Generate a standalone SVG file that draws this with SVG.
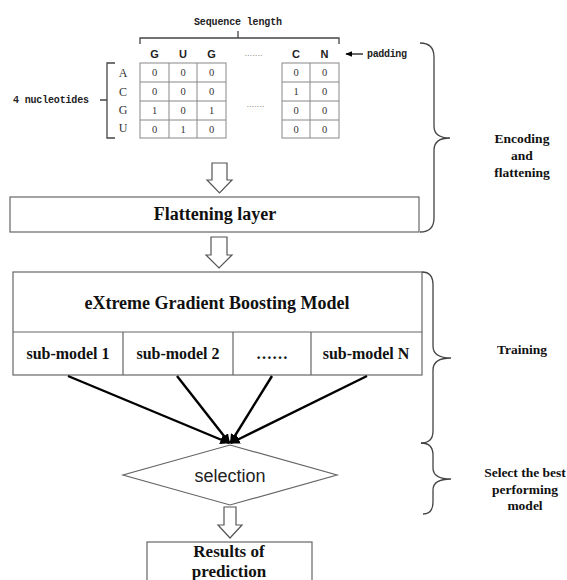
<svg xmlns="http://www.w3.org/2000/svg" width="567" height="580" viewBox="0 0 567 580">
<defs>
<marker id="ah" viewBox="0 0 10 10" refX="9" refY="5" markerWidth="4" markerHeight="4" orient="auto" markerUnits="strokeWidth"><path d="M0,0 L10,5 L0,10 z" fill="#000"/></marker>
<marker id="pa" viewBox="0 0 10 10" refX="9" refY="5" markerWidth="6" markerHeight="6" orient="auto" markerUnits="strokeWidth"><path d="M0,1 L10,5 L0,9 z" fill="#000"/></marker>
</defs>
<style>
.mono{font-family:"Liberation Mono",monospace;font-size:10px;font-weight:bold;fill:#222}
.hdr{font-family:"Liberation Sans",Arial,sans-serif;font-size:11px;font-weight:bold;fill:#222;text-anchor:middle}
.row{font-family:"Liberation Serif","Times New Roman",serif;font-size:12px;fill:#333;text-anchor:middle}
.num{font-family:"Liberation Serif","Times New Roman",serif;font-size:10.5px;fill:#333;text-anchor:middle}
.cell{fill:#fff;stroke:#888;stroke-width:1}
.box{fill:#fff;stroke:#666;stroke-width:1.2}
.bt{font-family:"Liberation Serif","Times New Roman",serif;font-weight:bold;font-size:18px;fill:#111;text-anchor:middle}
.rt{font-family:"Liberation Serif","Times New Roman",serif;font-weight:bold;font-size:17px;fill:#111;text-anchor:middle}
.st{font-family:"Liberation Serif","Times New Roman",serif;font-weight:bold;font-size:16px;fill:#111;text-anchor:middle}
.side{font-family:"Liberation Serif","Times New Roman",serif;font-weight:bold;font-size:13.5px;fill:#111;text-anchor:middle}
.brace{fill:none;stroke:#444;stroke-width:1.3}
.blk{fill:#fff;stroke:#555;stroke-width:1.2}
.conn{stroke:#000;stroke-width:2.4;fill:none;marker-end:url(#ah)}
.dots{font-family:"Liberation Mono",monospace;font-size:6px;fill:#444;text-anchor:middle;letter-spacing:-1px}
</style>

<g id="encoding-matrix">
  <text class="mono" x="194" y="25" textLength="88">Sequence length</text>
  <path class="brace" d="M140,44 L140,38 L339,38 L339,44 M238,38 L238,31"/>
  <text class="hdr" x="154.5" y="58">G</text>
  <text class="hdr" x="183" y="58">U</text>
  <text class="hdr" x="211.5" y="58">G</text>
  <text class="dots" x="253" y="56">.......</text>
  <text class="hdr" x="296" y="58">C</text>
  <text class="hdr" x="324.5" y="58">N</text>
  <path d="M363,54 L346,54" stroke="#000" stroke-width="1.2" marker-end="url(#pa)"/>
  <text class="mono" x="367" y="57" textLength="40">padding</text>
  <text class="mono" x="13" y="103" textLength="76">4 nucleotides</text>
  <path class="brace" d="M115,63 L107,63 L107,138 L115,138 M100,100 L107,100"/>
  <text class="row" x="123" y="77">A</text>
  <text class="row" x="123" y="96">C</text>
  <text class="row" x="123" y="114">G</text>
  <text class="row" x="123" y="132">U</text>
  <g>
    <rect class="cell" x="140" y="63" width="86" height="75"/>
    <path d="M169,63 V138 M197,63 V138 M140,82 H226 M140,101 H226 M140,120 H226" stroke="#888" stroke-width="1"/>
    <rect class="cell" x="282" y="63" width="57" height="75"/>
    <path d="M310,63 V138 M282,82 H339 M282,101 H339 M282,120 H339" stroke="#888" stroke-width="1"/>
  </g>
  <g>
    <text class="num" x="154.5" y="76">0</text><text class="num" x="183" y="76">0</text><text class="num" x="211.5" y="76">0</text>
    <text class="num" x="154.5" y="95">0</text><text class="num" x="183" y="95">0</text><text class="num" x="211.5" y="95">0</text>
    <text class="num" x="154.5" y="114">1</text><text class="num" x="183" y="114">0</text><text class="num" x="211.5" y="114">1</text>
    <text class="num" x="154.5" y="133">0</text><text class="num" x="183" y="133">1</text><text class="num" x="211.5" y="133">0</text>
    <text class="num" x="296" y="76">0</text><text class="num" x="324.5" y="76">0</text>
    <text class="num" x="296" y="95">1</text><text class="num" x="324.5" y="95">0</text>
    <text class="num" x="296" y="114">0</text><text class="num" x="324.5" y="114">0</text>
    <text class="num" x="296" y="133">0</text><text class="num" x="324.5" y="133">0</text>
  </g>
  <text class="dots" x="255" y="107">.......</text>
</g>

<g id="arrow1"><polygon class="blk" points="212,163 227,163 227,180 232,180 219.5,193 207,180 212,180"/></g>

<g id="flattening-layer">
  <rect class="box" x="10" y="197" width="409" height="35"/>
  <text class="bt" x="215" y="220">Flattening layer</text>
</g>

<g id="arrow2"><polygon class="blk" points="211,237 227,237 227,255 232,255 219,268 206,255 211,255"/></g>

<g id="xgboost">
  <rect class="box" x="13" y="272" width="409" height="103"/>
  <path d="M13,332 H422 M123,332 V375 M233,332 V375 M311,332 V375" stroke="#666" stroke-width="1.2"/>
  <text class="bt" x="217" y="309">eXtreme Gradient Boosting Model</text>
  <text class="st" x="68" y="359">sub-model 1</text>
  <text class="st" x="178" y="359">sub-model 2</text>
  <text class="st" x="272" y="359">……</text>
  <text class="st" x="366" y="359">sub-model N</text>
</g>

<g id="connectors">
  <line class="conn" x1="68" y1="376" x2="229" y2="443"/>
  <line class="conn" x1="177" y1="376" x2="229.5" y2="443"/>
  <line class="conn" x1="272" y1="376" x2="230.5" y2="443"/>
  <line class="conn" x1="367" y1="376" x2="231" y2="443"/>
</g>

<g id="selection">
  <polygon points="230,445 337,475 230,505 123,475" fill="#fff" stroke="#666" stroke-width="1.2"/>
  <text x="230" y="482" font-family="Liberation Sans, Arial, sans-serif" font-size="18" fill="#222" text-anchor="middle">selection</text>
</g>

<g id="arrow3"><polygon class="blk" points="224,507 236,507 236,525 242,525 230,538 218,525 224,525"/></g>

<g id="results">
  <rect class="box" x="147" y="542" width="165" height="50"/>
  <text class="rt" x="229" y="557">Results of</text>
  <text class="rt" x="229" y="577">prediction</text>
</g>

<g id="braces">
  <path class="brace" d="M420,43 Q434,43 434,57 L434,126 Q434,138 450,138 Q434,138 434,150 L434,218 Q434,232 420,232"/>
  <path class="brace" d="M422,272 Q433,272 433,285 L433,346 Q433,358 451,358 Q433,358 433,370 L433,431 Q433,443 421,443"/>
  <path class="brace" d="M421,443 Q433,443 433,455 L433,468 Q433,479 451,479 Q433,479 433,490 L433,502 Q433,514 423,514"/>
</g>

<g id="labels">
  <text class="side" x="522" y="143">Encoding</text>
  <text class="side" x="522" y="160">and</text>
  <text class="side" x="522" y="177">flattening</text>
  <text class="side" x="522" y="354">Training</text>
  <text class="side" x="525" y="477">Select the best</text>
  <text class="side" x="525" y="494">performing</text>
  <text class="side" x="525" y="510">model</text>
</g>
</svg>
